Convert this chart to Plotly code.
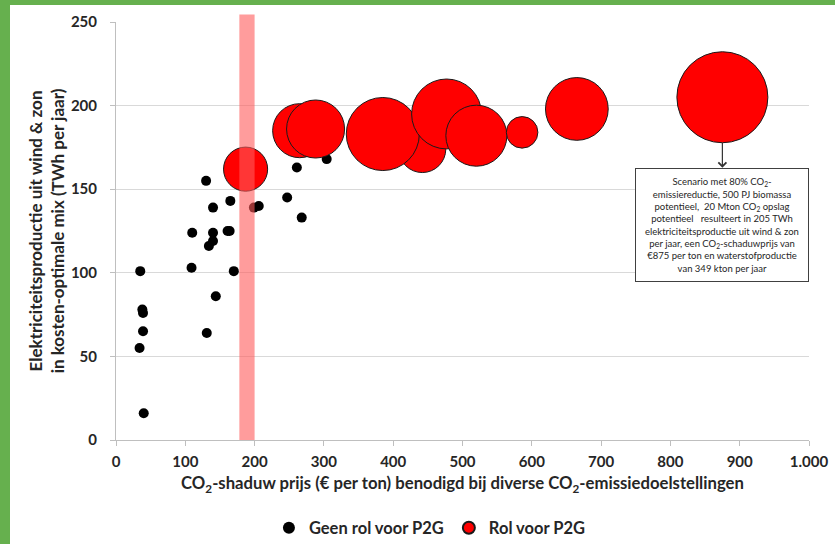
import plotly.graph_objects as go

# --- data -------------------------------------------------------------
geen_x = [130, 165, 140, 110, 140, 161, 164, 140, 134, 199, 206, 247, 268, 261, 304,
          35, 109, 170, 144, 38, 39, 39, 34, 131, 40]
geen_y = [155, 143, 139, 124, 124, 125, 125, 119, 116, 139, 140, 145, 133, 163, 168,
          101, 103, 101, 86, 78, 76, 65, 55, 64, 16]

rol_x = [187, 265, 288, 442, 385, 477, 520, 586, 665, 875]
rol_y = [162, 185, 186, 174, 183, 195, 182, 184, 198, 205]
rol_h2 = [82, 123, 142, 93, 225, 206, 157, 42, 166, 349]   # waterstofproductie (kton/jaar)

band_x = [178, 200]   # markering CO2-prijs
x_ticks = [0, 100, 200, 300, 400, 500, 600, 700, 800, 900, 1000]
x_ticktext = ["0", "100", "200", "300", "400", "500", "600", "700", "800", "900", "1.000"]
y_ticks = [0, 50, 100, 150, 200, 250]

FONT = "Lato"
TXT = "#262626"

fig = go.Figure()

fig.add_trace(go.Scatter(
    x=geen_x, y=geen_y, mode="markers", name="Geen rol voor P2G",
    marker=dict(color="black", size=10, opacity=1, line=dict(width=0)),
    cliponaxis=False,
))

max_d = 91
fig.add_trace(go.Scatter(
    x=rol_x, y=rol_y, mode="markers", name="Rol voor P2G",
    marker=dict(color="#FF0000", size=rol_h2, sizemode="area", opacity=1,
                sizeref=2 * max(rol_h2) / max_d ** 2,
                line=dict(color="#1a1a1a", width=1)),
    cliponaxis=False,
))

W, H = 835, 544
ml, mr, mt, mb = 116, 26, 22, 104
PLOT_L, PLOT_R, PLOT_T, PLOT_B = ml, W - mr, mt, H - mb


def px_x(p):
    return (p - PLOT_L) / (PLOT_R - PLOT_L)


def px_y(p):
    return (PLOT_B - p) / (PLOT_B - PLOT_T)


GREEN = "#66B04E"
shapes = [
    dict(type="rect", xref="paper", yref="paper", layer="below",
         x0=px_x(0), x1=px_x(10), y0=px_y(H), y1=px_y(0),
         fillcolor=GREEN, line=dict(width=0)),
    dict(type="rect", xref="paper", yref="paper", layer="below",
         x0=px_x(0), x1=px_x(W), y0=px_y(5), y1=px_y(0),
         fillcolor=GREEN, line=dict(width=0)),
    dict(type="rect", xref="x", yref="paper", layer="above",
         x0=band_x[0], x1=band_x[1], y0=0, y1=px_y(14.5),
         fillcolor="rgba(255,90,90,0.6)", line=dict(width=0)),
]

note = ("Scenario met 80% CO<sub>2</sub>-<br>"
        "emissiereductie, 500 PJ biomassa<br>"
        "potentieel,  20 Mton CO<sub>2</sub> opslag<br>"
        "potentieel   resulteert in 205 TWh<br>"
        "elektriciteitsproductie uit wind &amp; zon<br>"
        "per jaar, een CO<sub>2</sub>-schaduwprijs van<br>"
        "€875 per ton en waterstofproductie<br>"
        "van 349 kton per jaar")

annotations = [
    dict(x=875, y=128.6, xref="x", yref="y", text=note, showarrow=False,
         font=dict(family=FONT, size=9.5, color=TXT),
         align="center", bgcolor="white", bordercolor="#404040", borderwidth=1,
         borderpad=3, width=166, height=106),
    dict(x=875, y=162.9, xref="x", yref="y", ax=875, ay=178.5, axref="x", ayref="y",
         text="", showarrow=True, arrowhead=4, arrowsize=1.3, arrowwidth=1.2,
         arrowcolor="#333333"),
]

fig.update_layout(
    width=W, height=H, autosize=False,
    margin=dict(l=ml, r=mr, t=mt, b=mb, pad=0),
    paper_bgcolor="white", plot_bgcolor="white",
    font=dict(family=FONT, color=TXT),
    shapes=shapes, annotations=annotations,
    showlegend=True,
    legend=dict(orientation="h", xref="paper", x=0.453, xanchor="center",
                yref="container", y=(H - 528) / H, yanchor="middle",
                font=dict(family=FONT, size=16.5, color=TXT, weight="bold"),
                itemsizing="constant", bgcolor="rgba(0,0,0,0)"),
)

fig.update_xaxes(
    range=[0, 1000], tickvals=x_ticks, ticktext=x_ticktext, automargin=False,
    showgrid=False, zeroline=False,
    showline=True, linecolor="#BFBFBF", linewidth=1,
    ticks="outside", ticklen=5, tickcolor="#BFBFBF", ticklabelstandoff=3,
    tickfont=dict(family=FONT, size=15, color=TXT, weight="bold"),
    title=dict(text="CO<sub>2</sub>-shaduw prijs (€ per ton) benodigd bij diverse CO<sub>2</sub>-emissiedoelstellingen",
               font=dict(family=FONT, size=16.7, color=TXT, weight="bold"), standoff=8),
)
fig.update_yaxes(
    range=[0, 250], tickvals=y_ticks, automargin=False,
    showgrid=True, gridcolor="#D9D9D9", gridwidth=1, zeroline=False,
    showline=True, linecolor="#BFBFBF", linewidth=1,
    ticks="outside", ticklen=5, tickcolor="#BFBFBF", ticklabelstandoff=10,
    tickfont=dict(family=FONT, size=15, color=TXT, weight="bold"),
    title=dict(text="Elektriciteitsproductie uit wind &amp; zon<br>in kosten-optimale mix (TWh per jaar)",
               font=dict(family=FONT, size=17, color=TXT, weight="bold"), standoff=1),
)

fig.write_html("out.html", config={"displayModeBar": False},
               post_script="document.body.style.margin='0';")
